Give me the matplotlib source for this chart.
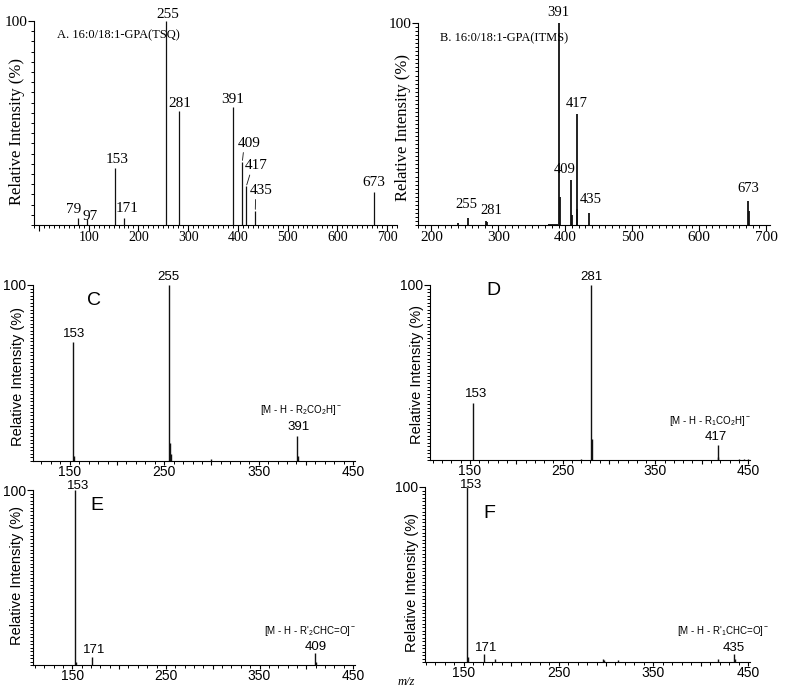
import numpy as np
import matplotlib
matplotlib.use('Agg')
import matplotlib.pyplot as plt
from matplotlib.ticker import MultipleLocator, FixedLocator

plt.rcParams['font.family'] = 'Liberation Sans'
plt.rcParams['mathtext.fontset'] = 'custom'
plt.rcParams['mathtext.rm'] = 'Liberation Sans'
plt.rcParams['mathtext.it'] = 'Liberation Sans:italic'
plt.rcParams['mathtext.default'] = 'regular'

# A. TSQ spectrum
mz_a = [79, 97, 153, 171, 255, 281, 391, 409, 417, 435, 673]
int_a = [3.5, 3, 28, 3.5, 100, 56, 58, 31, 19, 7, 16]
lab_a = [79, 97, 153, 171, 255, 281, 391, 409, 417, 435, 673]

# B. ITMS spectrum
mz_b = [240, 255, 281, 283, 376, 379, 382, 385, 388, 391, 392, 409, 410, 417, 418, 435, 673, 674]
int_b = [1, 3.3, 2, 1.5, 0.7, 0.7, 0.7, 0.7, 0.7, 100, 14, 22.5, 5, 55, 8, 6, 12, 7]
lab_b = [255, 281, 391, 409, 417, 435, 673]

# C-F product ion spectra
mz_c = [153, 154, 255, 256, 257, 300, 391, 392]
int_c = [67.5, 3, 100, 10, 4, 1, 14.3, 3]
lab_c = [153, 255, 391]

mz_d = [153, 270, 281, 282, 417, 418, 440, 445, 450]
int_d = [32.4, 0.8, 100, 12, 8.6, 2, 0.5, 0.5, 0.5]
lab_d = [153, 281, 417]

mz_e = [153, 154, 171, 409, 410]
int_e = [100, 2, 4.8, 6.7, 2]
lab_e = [153, 171, 409]

mz_f = [153, 154, 171, 183, 297, 298, 313, 418, 435, 436]
int_f = [100, 3, 4.8, 1.5, 2, 1, 1, 1.5, 4.8, 2]
lab_f = [153, 171, 435]

W, H = 789, 692
fig = plt.figure(figsize=(W / 100, H / 100), dpi=100)


def rect(l, r, t, b):
    return [l / W, 1 - b / H, (r - l) / W, (b - t) / H]


def style(ax, xl, serif, ymin_step, xmaj, xmin_step, xlabels, tsize):
    fam = 'Liberation Serif' if serif else 'Liberation Sans'
    for s in ['top', 'right']:
        ax.spines[s].set_visible(False)
    ax.set_ylim(0, 100)
    ax.yaxis.set_major_locator(FixedLocator([100]))
    ax.yaxis.set_minor_locator(MultipleLocator(ymin_step))
    ax.set_yticklabels(['100'], family=fam, fontsize=tsize)
    ticks = np.arange(0, 800, xmaj)
    ticks = ticks[(ticks >= xl[0]) & (ticks <= xl[1])]
    ax.set_xticks(ticks)
    ax.set_xticklabels([str(int(t)) if int(t) in xlabels else '' for t in ticks],
                       family=fam, fontsize=tsize)
    ax.xaxis.set_minor_locator(MultipleLocator(xmin_step))
    ax.set_xlim(*xl)
    ax.tick_params(axis='both', which='major', length=4, width=0.8, pad=1)
    ax.tick_params(axis='both', which='minor', length=2.5, width=0.7)
    ax.tick_params(axis='x', pad=0)


def ylab(ax, x, y, serif):
    fam = 'Liberation Serif' if serif else 'Liberation Sans'
    ax.set_ylabel('Relative Intensity (%)', family=fam, fontsize=12 if serif else 10.5)
    ax.yaxis.label.set_va('center')
    ax.yaxis.set_label_coords(x, y)


def peaks(ax, mz, inten, lw):
    ax.vlines(mz, 0, inten, colors='#111111', lw=lw, clip_on=False)


def labels(ax, mz, inten, lab, offs, fam, size, lead=()):
    for m, (dx, dy) in zip(lab, offs):
        h = inten[mz.index(m)]
        kw = {}
        if m in lead:
            kw['arrowprops'] = dict(arrowstyle='-', lw=0.6, color='#111111',
                                    shrinkA=0, shrinkB=1, relpos=(0.25, 0))
        ax.annotate(str(m), xy=(m, h), xytext=(dx, dy), textcoords='offset pixels',
                    ha='center', va='bottom', family=fam, fontsize=size, **kw)


# Panel A
ax = fig.add_axes(rect(34, 397, 21, 225))
peaks(ax, mz_a, int_a, 0.9)
style(ax, (-10, 720), True, 5, 100, 10, [100, 200, 300, 400, 500, 600, 700], 10)
ax.set_yticklabels(['100'], family='Liberation Serif', fontsize=11)
labels(ax, mz_a, int_a, lab_a,
       [(-5, 2), (3, -4), (2, 2), (3, 3), (2, 0), (1, 1), (-1, 1), (7, 12), (10, 14), (6, 14), (0, 3)],
       'Liberation Serif', 11, lead=(409, 417, 435))
ax.text(0.063, 0.93, 'A. 16:0/18:1-GPA(TSQ)', transform=ax.transAxes,
        family='Liberation Serif', fontsize=9, va='center')
ylab(ax, -0.047, 0.46, True)

# Panel B
ax = fig.add_axes(rect(418, 770, 23, 225))
peaks(ax, mz_b, int_b, 1.3)
style(ax, (180, 706), True, 2, 100, 10, [200, 300, 400, 500, 600, 700], 11)
labels(ax, mz_b, int_b, lab_b,
       [(-2, 7), (6, 4), (-1, 4), (-7, 4), (0, 4), (2, 7), (0, 6)],
       'Liberation Serif', 10.5)
ax.text(0.0625, 0.926, 'B. 16:0/18:1-GPA(ITMS)', transform=ax.transAxes,
        family='Liberation Serif', fontsize=9, va='center')
ylab(ax, -0.043, 0.485, True)

# Panels C-F
panels = [
    (rect(33, 355, 285, 461), (111, 452), mz_c, int_c, lab_c, [(1, 2), (-1, 2), (1, 3)],
     'C', (0.168, 0.91), r'[M - H - R$_2$CO$_2$H]$^-$', 391, (4, 19), (-0.047, 0.48)),
    (rect(430, 750, 285, 460), (107, 452), mz_d, int_d, lab_d, [(3, 3), (0, 2), (-2, 2)],
     'D', (0.175, 0.966), r'[M - H - R$_1$CO$_2$H]$^-$', 417, (-8, 17), (-0.041, 0.486)),
    (rect(33, 355, 490, 665), (108, 452), mz_e, int_e, lab_e, [(3, -2), (2, 1), (1, 0)],
     'E', (0.177, 0.909), r"[M - H - R'$_2$CHC=O]$^-$", 409, (-5, 15), (-0.05, 0.51)),
    (rect(425, 750, 487, 662), (109, 452), mz_f, int_f, lab_f, [(4, -4), (2, 0), (0, 0)],
     'F', (0.18, 0.846), r"[M - H - R'$_1$CHC=O]$^-$", 435, (-11, 16), (-0.04, 0.457)),
]

for pos, xl, mz, inten, lab, offs, letter, lpos, ion, ion_mz, ion_off, ypos in panels:
    ax = fig.add_axes(pos)
    peaks(ax, mz, inten, 1.0)
    style(ax, xl, False, 2, 50, 10, [150, 250, 350, 450], 10)
    ax.tick_params(axis='x', which='major', length=3)
    labels(ax, mz, inten, lab, offs, 'Liberation Sans', 9.5)
    ax.annotate(ion, xy=(ion_mz, inten[mz.index(ion_mz)]), xytext=ion_off,
                textcoords='offset pixels', ha='center', va='bottom', fontsize=7)
    ax.text(lpos[0], lpos[1], letter, transform=ax.transAxes, fontsize=14, va='center')
    ylab(ax, ypos[0], ypos[1], False)

fig.text(398 / W, 1 - 682 / H, 'm/z', family='Liberation Serif', style='italic',
         fontsize=9, va='center')

fig.savefig('out.png', dpi=100)
